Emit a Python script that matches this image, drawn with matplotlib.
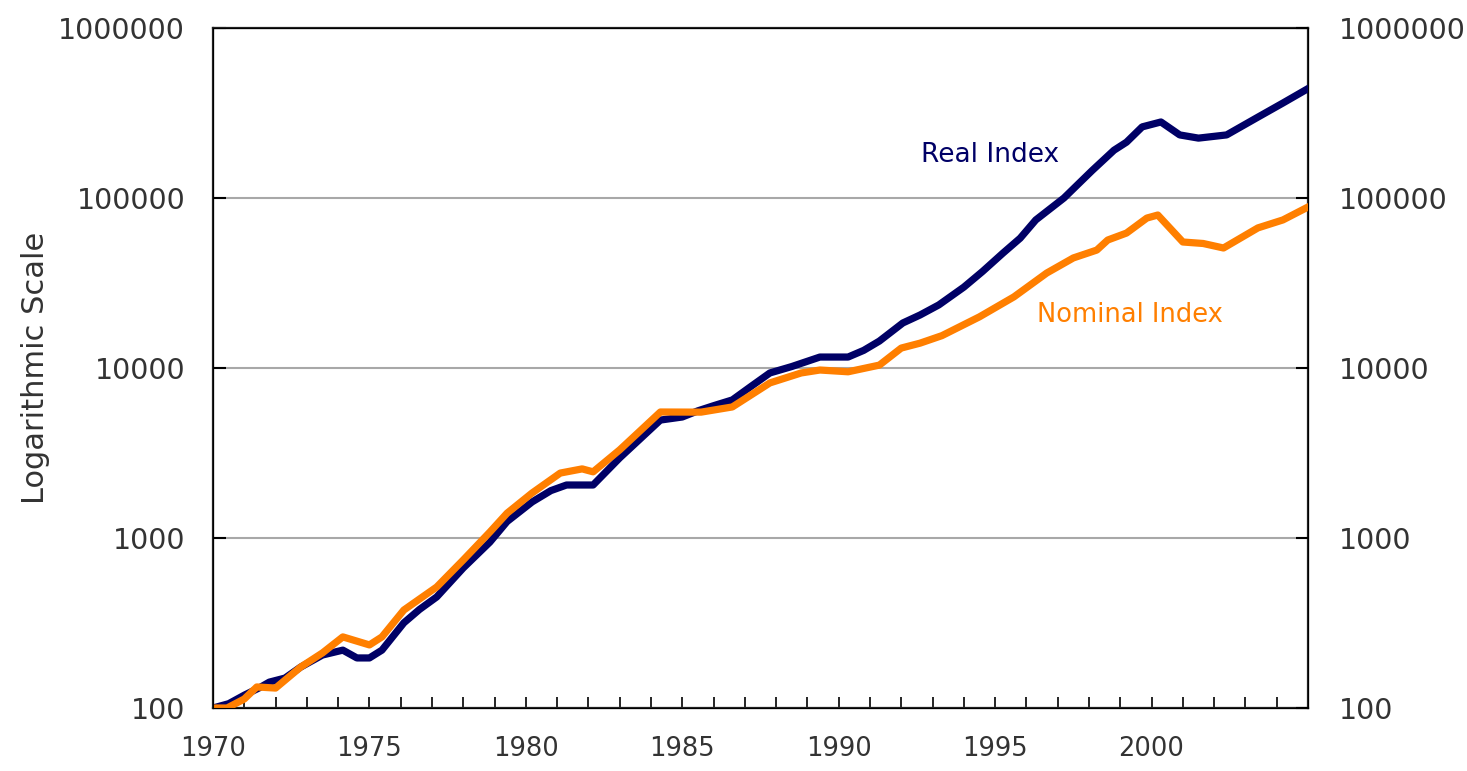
# # 0. import external modules
import matplotlib
matplotlib.use('Agg')
import matplotlib.pyplot as plt
from matplotlib.ticker import FixedLocator, NullLocator

# # 1. data
# ====================
real_years = [1970.0, 1970.5, 1971.0, 1971.5, 1971.8, 1972.3, 1972.8, 1973.5,
              1974.15, 1974.6, 1975.0, 1975.4, 1976.1, 1976.6, 1977.15, 1978.0,
              1978.85, 1979.4, 1980.2, 1980.8, 1981.3, 1982.15, 1983.0, 1983.7,
              1984.3, 1985.0, 1985.5, 1986.0, 1986.6, 1987.2, 1987.8, 1988.5,
              1989.4, 1990.3, 1990.8, 1991.3, 1992.05, 1992.6, 1993.2, 1994.0,
              1994.6, 1995.25, 1995.8, 1996.3, 1997.2, 1997.6, 1998.1, 1998.8,
              1999.2, 1999.7, 2000.3, 2000.9, 2001.5, 2002.4, 2003.4, 2004.2,
              2005.0]
real_index = [100, 106, 119, 132, 142, 150, 174, 205,
              219, 197, 197, 219, 317, 380, 450, 667,
              946, 1250, 1630, 1900, 2050, 2050, 2960, 3900,
              4940, 5150, 5600, 6000, 6490, 7800, 9350, 10200,
              11600, 11600, 12700, 14400, 18400, 20500, 23500, 29900,
              37000, 47400, 58000, 74300, 100000, 118000, 145000, 191000,
              213000, 262000, 280000, 235000, 225000, 235000, 299000, 362000,
              440000]

nominal_years = [1970.0, 1970.45, 1971.0, 1971.4, 1972.0, 1972.8, 1973.5, 1974.15,
                 1975.0, 1975.4, 1976.1, 1977.15, 1978.0, 1978.85, 1979.4, 1980.2,
                 1981.1, 1981.8, 1982.15, 1983.0, 1984.3, 1985.6, 1986.6, 1987.8,
                 1988.8, 1989.4, 1990.3, 1991.3, 1992.0, 1992.6, 1993.3, 1994.5,
                 1995.6, 1996.65, 1997.5, 1998.25, 1998.6, 1999.2, 1999.85, 2000.2,
                 2001.0, 2001.65, 2002.3, 2003.4, 2004.2, 2005.0]
nominal_index = [100, 100, 113, 133, 131, 174, 211, 262,
                 235, 262, 377, 515, 743, 1084, 1400, 1840,
                 2410, 2550, 2450, 3300, 5510, 5500, 5900, 8170,
                 9350, 9730, 9500, 10400, 13100, 14000, 15500, 20000,
                 26200, 36200, 44400, 49400, 56600, 62200, 76200, 79400,
                 55100, 54000, 50800, 66700, 74300, 88500]

xtick_years = list(range(1970, 2006))
xtick_labels = [str(y) if (y % 5 == 0 and y < 2005) else '' for y in xtick_years]
ytick_values = [100, 1000, 10000, 100000, 1000000]
ytick_labels = ['100', '1000', '10000', '100000', '1000000']

navy = '#000066'
orange = '#ff7f00'

# # 2. set canvas size
# ====================
fig = plt.figure(figsize=(14.67, 7.71), dpi=100)
ax = fig.add_axes([0.1452, 0.0817, 0.7464, 0.882])
print('2. set canvas size')

# # 3. plot series
# ====================
ax.plot(real_years, real_index, color=navy, lw=5.2, solid_joinstyle='round', zorder=3)
ax.plot(nominal_years, nominal_index, color=orange, lw=5.2, solid_joinstyle='round', zorder=4)
print('3. plot series')

# # 4. scales, limits, grid
# ====================
ax.set_yscale('log')
ax.set_xlim(1970, 2005)
ax.set_ylim(100, 1000000)
ax.yaxis.set_major_locator(FixedLocator(ytick_values))
ax.yaxis.set_minor_locator(NullLocator())
ax.set_yticklabels(ytick_labels)
ax.xaxis.set_major_locator(FixedLocator(xtick_years))
ax.set_xticklabels(xtick_labels)
ax.grid(True, axis='y', color='#a8a8a8', lw=1.5)
ax.set_axisbelow(True)
for s in ax.spines.values():
    s.set_linewidth(1.6)
    s.set_color('#222222')
ax.tick_params(axis='y', direction='in', length=9, width=1.5, labelsize=20.5,
               pad=20, labelcolor='#333333')
ax.tick_params(axis='x', direction='in', length=8, width=1.2, labelsize=18.5,
               pad=20, labelcolor='#333333')

# right axis mirrors the left one
ax2 = ax.twinx()
ax2.set_yscale('log')
ax2.set_ylim(100, 1000000)
ax2.yaxis.set_major_locator(FixedLocator(ytick_values))
ax2.yaxis.set_minor_locator(NullLocator())
ax2.set_yticklabels(ytick_labels)
ax2.tick_params(axis='y', direction='in', length=9, width=1.5, labelsize=20.5,
                pad=22, labelcolor='#333333')
print('4. scales, limits, grid')

# # 5. labels
# ====================
ax.set_ylabel('Logarithmic Scale', fontsize=22, color='#333333', labelpad=6)
ax.text(1994.83, 179000, 'Real Index', color=navy, fontsize=19, ha='center', va='center')
ax.text(1999.3, 20500, 'Nominal Index', color=orange, fontsize=18.5, ha='center', va='center')
print('5. labels')

fig.savefig('out.png', dpi=100, facecolor='white')
